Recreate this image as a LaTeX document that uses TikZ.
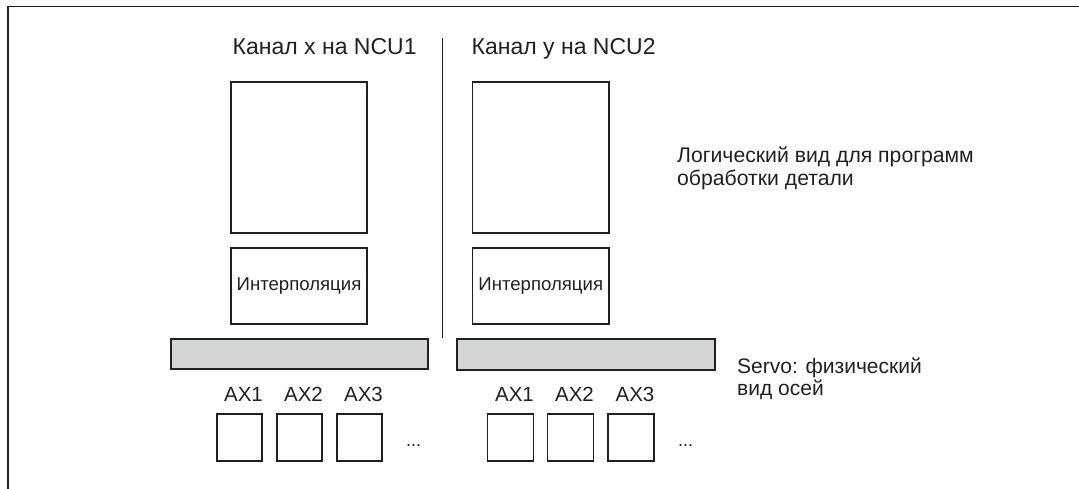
\documentclass[tikz,border=0pt]{standalone}
\usepackage{fontspec}
\setmainfont{Liberation Sans}
\definecolor{ink}{RGB}{35,31,32}
\definecolor{servogray}{RGB}{212,213,214}
\begin{document}
\begin{tikzpicture}[x=1pt,y=-1pt,
  lw/.style={line width=1.3pt, draw=ink},
  box/.style={lw, rectangle, inner sep=0pt, outer sep=0pt},
  busbar/.style={box, fill=servogray, minimum width=257, minimum height=30},
  axbox/.style={box, minimum width=45, minimum height=47},
  title/.style={text=ink, font=\fontsize{23}{26}\selectfont, anchor=base west, inner sep=0pt},
  note/.style={text=ink, font=\fontsize{21.2}{23.3}\selectfont, anchor=base west, inner sep=0pt, align=left},
  axlabel/.style={text=ink, font=\fontsize{20.5}{22}\selectfont, anchor=base, inner sep=0pt},
  dots/.style={text=ink, font=\fontsize{18}{20}\selectfont, anchor=base west, inner sep=0pt}
]
\useasboundingbox (0,0) rectangle (1079,489);

% outer frame (top and left edges)
\coordinate (frameTL) at (7.7,6.7);
\coordinate (frameTR) at (1079,6.7);
\coordinate (frameBL) at (7.7,489);
\draw[lw, line width=1.6pt] (frameTR) -- (frameTL) -- (frameBL);

% channel headings and separator
\node[title] (chx) at (232.5,54.5) {Канал x на NCU1};
\node[title] (chy) at (471.5,54.5) {Канал y на NCU2};
\coordinate (sepTop) at (442.7,37.7);
\coordinate (sepBot) at (442.7,338);
\draw[lw] (sepTop) -- (sepBot);

% program blocks
\node[box, minimum width=136, minimum height=151] (progL) at (299,157.5) {};
\node[box, minimum width=136.5, minimum height=151] (progR) at (540.75,157.5) {};

% interpolation blocks
\node[box, minimum width=136, minimum height=76, text=ink,
      font=\fontsize{18.6}{22}\selectfont] (ipoL) at (299,286) {Интерполяция};
\node[box, minimum width=136.5, minimum height=76, text=ink,
      font=\fontsize{18.6}{22}\selectfont] (ipoR) at (540.75,286) {Интерполяция};

% servo bars
\node[busbar] (servoL) at (299.5,354) {};
\node[busbar, minimum width=258, minimum height=31] (servoR) at (586,354.5) {};

% axes, channel x
\node[axbox] (axL1) at (239.5,437.5) {};
\node[axbox] (axL2) at (299.5,437.5) {};
\node[axbox] (axL3) at (359.5,437.5) {};
\node[axlabel] (axL1t) at (243.5,401) {AX1};
\node[axlabel] (axL2t) at (303.5,401) {AX2};
\node[axlabel] (axL3t) at (363.5,401) {AX3};
\node[dots] (dotsL) at (406,446) {...};

% axes, channel y
\node[axbox, minimum width=46] (axR1) at (510.5,437.5) {};
\node[axbox, minimum width=46] (axR2) at (570.5,437.5) {};
\node[axbox, minimum width=46] (axR3) at (631,437.5) {};
\node[axlabel] (axR1t) at (514.5,401) {AX1};
\node[axlabel] (axR2t) at (574.5,401) {AX2};
\node[axlabel] (axR3t) at (635,401) {AX3};
\node[dots] (dotsR) at (678,446) {...};

% side notes (anchored on the baseline of the last line)
\node[note] (logic) at (677,186) {Логический вид для программ\\обработки детали};
\node[note, font=\fontsize{21}{22.5}\selectfont] (servo) at (737,395.5) {Servo: физический\\вид осей};
\end{tikzpicture}
\end{document}
